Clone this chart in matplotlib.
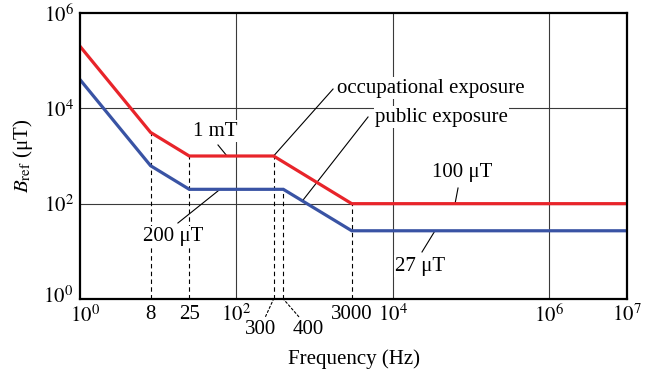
import matplotlib
matplotlib.use("Agg")
import matplotlib.pyplot as plt
import matplotlib.transforms as mtransforms
import numpy as np

# ICNIRP reference levels for magnetic flux density (uT)
freq_occ = [1, 8, 25, 300, 3000, 1e7]
b_occ = [2e5, 3125, 1000, 1000, 100, 100]
freq_pub = [1, 8, 25, 400, 3000, 1e7]
b_pub = [4e4, 625, 200, 200, 27, 27]

xtick_vals = [1, 8, 25, 100, 3000, 1e4, 1e6, 1e7]
xtick_labels = [r"$10^{0}$", "8", "25", r"$10^{2}$", "3000", r"$10^{4}$", r"$10^{6}$", r"$10^{7}$"]
ytick_vals = [1, 1e2, 1e4, 1e6]
ytick_labels = [r"$10^{0}$", r"$10^{2}$", r"$10^{4}$", r"$10^{6}$"]

plt.rcParams["font.family"] = ["Liberation Serif", "DejaVu Serif"]
plt.rcParams["mathtext.fontset"] = "stix"

RED = "#e8242a"
BLUE = "#3953a4"
FS = 15

fig = plt.figure(figsize=(6.63, 3.76), dpi=100)
ax = fig.add_axes([0.1207, 0.2048, 0.825, 0.7606])
ax.set_xscale("log")
ax.set_yscale("log")
ax.set_xlim(1, 1e7)
ax.set_ylim(1, 1e6)

# sparse grid
for gx in [1e2, 1e4, 1e6]:
    ax.axvline(gx, color="#3a3a3a", lw=0.8, zorder=1)
for gy in [1e2, 1e4]:
    ax.axhline(gy, color="#3a3a3a", lw=0.8, zorder=1)

# dashed drop lines at break frequencies
drops = [(freq_occ[1], b_occ[1]), (freq_occ[2], b_occ[2]), (freq_occ[3], b_occ[3]),
         (freq_pub[3], b_pub[3]), (freq_occ[4], b_occ[4])]
for fx, by in drops:
    ax.plot([fx, fx], [1, by], color="black", lw=0.8, ls=(0, (4, 3)), zorder=2)

ax.plot(freq_occ, b_occ, color=RED, lw=2.3, zorder=4, solid_joinstyle="miter")
ax.plot(freq_pub, b_pub, color=BLUE, lw=2.3, zorder=4, solid_joinstyle="miter")

# leader lines
leaders = [
    ((58.3, 1702), (76, 1000)),
    ((300, 1000), (1730, 25400)),
    ((700, 114), (4850, 6580)),
    ((68800, 213), (63000, 100)),
    ((17.9, 39.3), (61.9, 200)),
    ((23800, 9.7), (34900, 27)),
]
for (x0, y0), (x1, y1) in leaders:
    ax.plot([x0, x1], [y0, y1], color="black", lw=0.8, zorder=3)

box = dict(facecolor="white", edgecolor="none", pad=1.0)
labels = [
    (53.4, 3345, "1 mT", "center"),
    (1945, 26700, "occupational exposure", "left"),
    (42300, 6580, "public exposure", "center"),
    (77400, 440, "100 μT", "center"),
    (15.5, 20, "200 μT", "center"),
    (22450, 4.92, "27 μT", "center"),
]
for x, y, s, ha in labels:
    ax.text(x, y, s, fontsize=FS, ha=ha, va="center", bbox=box, zorder=5)

ax.set_xticks(xtick_vals)
ax.set_xticklabels(xtick_labels)
ax.set_yticks(ytick_vals)
ax.set_yticklabels(ytick_labels)
ax.xaxis.set_minor_locator(matplotlib.ticker.NullLocator())
ax.yaxis.set_minor_locator(matplotlib.ticker.NullLocator())
ax.tick_params(length=0, labelsize=FS)
ax.tick_params(axis="x", pad=4)
ax.tick_params(axis="y", pad=4)

# nudge the corner labels apart
first_x = ax.get_xticklabels()[0]
first_x.set_transform(first_x.get_transform() +
                      mtransforms.ScaledTranslation(5 / 100, -1 / 100, fig.dpi_scale_trans))
first_y = ax.get_yticklabels()[0]
first_y.set_transform(first_y.get_transform() +
                      mtransforms.ScaledTranslation(-1 / 100, 4 / 100, fig.dpi_scale_trans))

# offset labels for 300 and 400 Hz
for fx, dx, rp in [(300, -13, (0.6, 1.0)), (400, 25, (0.3, 1.0))]:
    ax.annotate(str(fx), xy=(fx, 0), xycoords=("data", "axes fraction"),
                xytext=(dx, -31), textcoords="offset pixels",
                ha="center", va="center", fontsize=FS,
                arrowprops=dict(arrowstyle="-", lw=0.8, ls=(0, (2, 2)),
                                shrinkA=1, shrinkB=0, relpos=rp))

for sp in ax.spines.values():
    sp.set_linewidth(1.6)
    sp.set_zorder(6)

ax.set_xlabel("Frequency (Hz)", fontsize=FS, labelpad=16)
ax.set_ylabel(r"$B_{\mathrm{ref}}$ (μT)", fontsize=FS, labelpad=6)

fig.savefig("out.png", dpi=100)
